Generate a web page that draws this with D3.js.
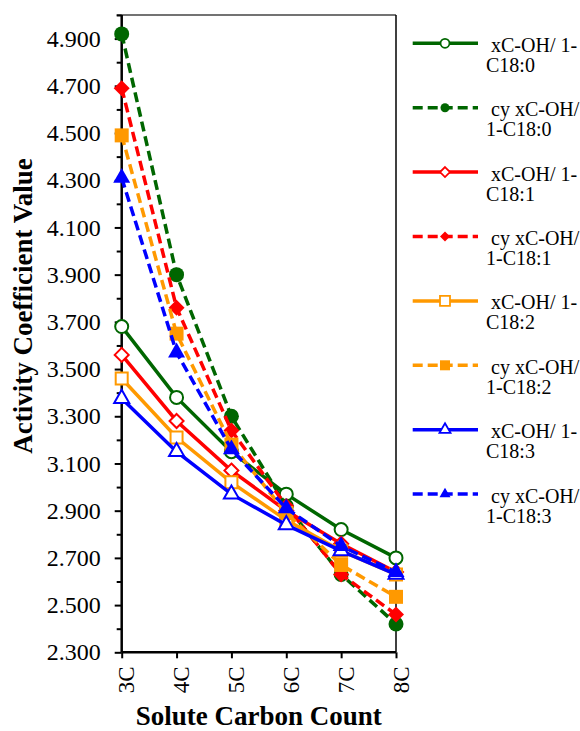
<!DOCTYPE html>
<html>
<head>
<meta charset="utf-8">
<script src="https://cdn.jsdelivr.net/npm/d3@7"></script>
<style>
  body { margin: 0; background: #fff; }
  text { font-family: "Liberation Serif", "Times New Roman", serif; fill: #000; }
</style>
</head>
<body>
<div id="chart"></div>
<script>
// categories on the x axis
var categories = ["3C", "4C", "5C", "6C", "7C", "8C"];

// one array per series
var sat18_0   = [3.68, 3.38, 3.15, 2.97, 2.82, 2.70];
var cySat18_0 = [4.92, 3.90, 3.30, 2.92, 2.63, 2.42];
var sat18_1   = [3.56, 3.28, 3.07, 2.90, 2.76, 2.64];
var cySat18_1 = [4.69, 3.76, 3.24, 2.92, 2.63, 2.46];
var sat18_2   = [3.46, 3.21, 3.02, 2.86, 2.73, 2.63];
var cySat18_2 = [4.49, 3.65, 3.18, 2.89, 2.67, 2.535];
var sat18_3   = [3.375, 3.15, 2.97, 2.84, 2.73, 2.63];
var cySat18_3 = [4.31, 3.57, 3.16, 2.91, 2.75, 2.64];

// legend labels, already broken into the two lines shown
var seriesLabels = [
  [" xC-OH/ 1-", "C18:0"],
  [" cy xC-OH/", "1-C18:0"],
  [" xC-OH/ 1-", "C18:1"],
  [" cy xC-OH/", "1-C18:1"],
  [" xC-OH/ 1-", "C18:2"],
  [" cy xC-OH/", "1-C18:2"],
  [" xC-OH/ 1-", "C18:3"],
  [" cy xC-OH/", "1-C18:3"]
];

// y axis tick labels
var yTickValues = [2.3, 2.5, 2.7, 2.9, 3.1, 3.3, 3.5, 3.7, 3.9, 4.1, 4.3, 4.5, 4.7, 4.9];

var seriesValues = [sat18_0, cySat18_0, sat18_1, cySat18_1, sat18_2, cySat18_2, sat18_3, cySat18_3];
var colors = ["#006600", "#006600", "#ff0000", "#ff0000", "#ff9900", "#ff9900", "#0000ff", "#0000ff"];
var shapes = ["circle", "circle", "diamond", "diamond", "square", "square", "triangle", "triangle"];

var width = 580, height = 731;
var plot = {left: 121.7, right: 396, top: 15, bottom: 652.3};

var svg = d3.select("#chart")
  .append("svg")
    .attr("width", width)
    .attr("height", height);

var x = d3.scalePoint()
    .domain(categories)
    .range([plot.left, plot.right]);

var y = d3.scaleLinear()
    .domain([2.3, 5.0])
    .range([plot.bottom, plot.top]);

// marker path around 0,0 ; s = half size
function markerPath(shape, s) {
  if (shape == "circle") {
    return "M" + (-s) + ",0A" + s + "," + s + " 0 1,0 " + s + ",0A" + s + "," + s + " 0 1,0 " + (-s) + ",0Z";
  }
  if (shape == "diamond") {
    return "M0," + (-s) + "L" + s + ",0L0," + s + "L" + (-s) + ",0Z";
  }
  if (shape == "square") {
    return "M" + (-s) + "," + (-s) + "H" + s + "V" + s + "H" + (-s) + "Z";
  }
  // triangle, centred on its centroid
  var h = s * 1.75;
  return "M0," + (-h * 2 / 3) + "L" + s + "," + (h / 3) + "L" + (-s) + "," + (h / 3) + "Z";
}

var bigSize = {circle: 7.5, diamond: 8, square: 7, triangle: 8.5};
var smallSize = {circle: 4.5, diamond: 5, square: 5, triangle: 5.5};

// frame: top and right lines
svg.append("line")
    .attr("x1", plot.left - 5).attr("x2", plot.right)
    .attr("y1", plot.top).attr("y2", plot.top)
    .attr("stroke", "#444").attr("stroke-width", 1.5);
svg.append("line")
    .attr("x1", plot.right).attr("x2", plot.right)
    .attr("y1", plot.top).attr("y2", plot.bottom)
    .attr("stroke", "#000").attr("stroke-width", 1.5);

// minor y ticks every 0.1 (no labels)
var minorTicks = d3.range(2.4, 5.01, 0.2);
var yMinor = svg.append("g")
    .attr("transform", "translate(" + plot.left + ",0)")
    .call(d3.axisLeft(y).tickValues(minorTicks).tickSize(5).tickFormat(""));
yMinor.select(".domain").remove();
yMinor.selectAll("line").attr("stroke-width", 2);

// major y axis with labels
var yAxis = svg.append("g")
    .attr("transform", "translate(" + plot.left + ",0)")
    .call(d3.axisLeft(y).tickValues(yTickValues).tickSize(7).tickPadding(14).tickFormat(d3.format(".3f")));
yAxis.select(".domain").attr("d", "M0," + plot.top + "V" + plot.bottom).attr("stroke-width", 2.5);
yAxis.selectAll("line").attr("stroke-width", 2);
yAxis.selectAll("text")
    .style("font-family", "Liberation Serif")
    .style("font-size", "24px");

// x axis
var xAxis = svg.append("g")
    .attr("transform", "translate(0," + plot.bottom + ")")
    .call(d3.axisBottom(x).tickSize(6).tickSizeOuter(0));
xAxis.select(".domain").attr("d", "M" + plot.left + ",0H" + plot.right).attr("stroke-width", 2.5);
xAxis.selectAll("line").attr("stroke-width", 2);
xAxis.selectAll("text")
    .style("font-family", "Liberation Serif")
    .style("font-size", "23px")
    .attr("text-anchor", "end")
    .attr("transform", "translate(4,0) rotate(-90)")
    .attr("x", -14)
    .attr("y", 0)
    .attr("dy", "0.35em");

// axis titles
svg.append("text")
    .attr("transform", "translate(32,306) rotate(-90)")
    .attr("text-anchor", "middle")
    .style("font-size", "27px")
    .style("font-weight", "bold")
    .text("Activity Coefficient Value");

svg.append("text")
    .attr("x", (plot.left + plot.right) / 2)
    .attr("y", 725)
    .attr("text-anchor", "middle")
    .style("font-size", "27px")
    .style("font-weight", "bold")
    .text("Solute Carbon Count");

// series
var line = d3.line()
    .x(function(d, i) { return x(categories[i]); })
    .y(function(d) { return y(d); });

seriesValues.forEach(function(vals, k) {
  var dashed = (k % 2 == 1);
  var g = svg.append("g").attr("class", "series");
  g.append("path")
      .attr("d", line(vals))
      .attr("fill", "none")
      .attr("stroke", colors[k])
      .attr("stroke-width", 3.5)
      .attr("stroke-dasharray", dashed ? "10,5" : null);
  g.selectAll(".mark")
      .data(vals)
      .enter()
      .append("path")
      .attr("class", "mark")
      .attr("transform", function(d, i) { return "translate(" + x(categories[i]) + "," + y(d) + ")"; })
      .attr("d", markerPath(shapes[k], dashed ? bigSize[shapes[k]] : bigSize[shapes[k]] - 1))
      .attr("fill", dashed ? colors[k] : "#fff")
      .attr("stroke", colors[k])
      .attr("stroke-width", dashed ? 0 : 2);
});

// legend
var legend = svg.append("g").attr("class", "legend");
seriesLabels.forEach(function(lines, k) {
  var dashed = (k % 2 == 1);
  var rowY = 43.3 + k * 64.4;
  var row = legend.append("g").attr("transform", "translate(0," + rowY + ")");
  row.append("line")
      .attr("x1", 412.7).attr("x2", 478)
      .attr("y1", 0).attr("y2", 0)
      .attr("stroke", colors[k])
      .attr("stroke-width", 3.5)
      .attr("stroke-dasharray", dashed ? "10,5" : null);
  row.append("path")
      .attr("transform", "translate(445,0)")
      .attr("d", markerPath(shapes[k], smallSize[shapes[k]]))
      .attr("fill", dashed ? colors[k] : "#fff")
      .attr("stroke", colors[k])
      .attr("stroke-width", dashed ? 0 : 1.8);
  row.append("text")
      .attr("x", 486).attr("y", 8.5)
      .attr("xml:space", "preserve")
      .style("white-space", "pre")
      .style("font-size", "20px")
      .text(lines[0]);
  row.append("text")
      .attr("x", 486).attr("y", 28.5)
      .style("font-size", "20px")
      .text(lines[1]);
});
</script>
</body>
</html>
